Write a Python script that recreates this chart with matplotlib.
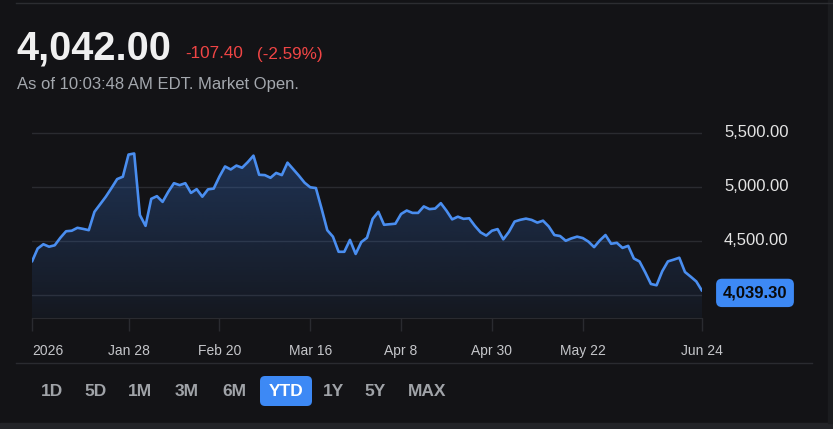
import numpy as np
import pandas as pd
import matplotlib
matplotlib.use("Agg")
import matplotlib.pyplot as plt
from matplotlib import transforms
from matplotlib.colors import to_rgb
from matplotlib.lines import Line2D
from matplotlib.patches import FancyBboxPatch, Rectangle

# --- data (YTD daily closes) ---
holidays = ["2026-01-19", "2026-02-16", "2026-04-03", "2026-05-25", "2026-06-19"]
dates = pd.bdate_range("2026-01-02", "2026-06-24", freq="C", holidays=holidays)

closes = [4310, 4430, 4470, 4447, 4460, 4530, 4590, 4595, 4622, 4612,
          4600, 4770, 4840, 4910, 4990, 5073, 5095, 5300, 5310, 4740,
          4640, 4890, 4915, 4862, 4955, 5035, 5017, 5035, 4945, 4980,
          4910, 4978, 4985, 5095, 5190, 5162, 5198, 5178, 5230, 5290,
          5113, 5110, 5085, 5130, 5110, 5225, 5165, 5105, 5040, 4997,
          4990, 4800, 4600, 4540, 4400, 4400, 4510, 4380, 4490, 4530,
          4705, 4770, 4650, 4655, 4660, 4750, 4782, 4760, 4760, 4820,
          4795, 4800, 4850, 4780, 4700, 4725, 4705, 4710, 4640, 4580,
          4550, 4595, 4610, 4515, 4585, 4680, 4696, 4707, 4695, 4670,
          4688, 4635, 4555, 4546, 4502, 4524, 4540, 4527, 4494, 4443,
          4505, 4555, 4474, 4483, 4436, 4455, 4338, 4310, 4210, 4102,
          4090, 4220, 4311, 4327, 4345, 4213, 4170, 4125, 4039.30]

tick_dates = ["2026-01-02", "2026-01-28", "2026-02-20", "2026-03-16",
              "2026-04-08", "2026-04-30", "2026-05-22", "2026-06-24"]
y_ticks = [4000, 4500, 5000, 5500]
y_labeled = [4500, 5000, 5500]   # 4,000 sits behind the last-price tag
ranges = ["1D", "5D", "1M", "3M", "6M", "YTD", "1Y", "5Y", "MAX"]
selected = "YTD"

price = "4,042.00"
change = "-107.40"
change_pct = "(-2.59%)"
status = "As of 10:03:48 AM EDT. Market Open."

# --- styling ---
W, H = 833, 429
BG = "#131316"
LINE = "#4a8ef0"
BLUE = "#3d89f5"
GRID = "#2a2b30"
plt.rcParams["font.family"] = ["Liberation Sans", "DejaVu Sans"]

fig = plt.figure(figsize=(W / 100, H / 100), dpi=100, facecolor=BG)
pix = transforms.IdentityTransform()


def fx(x, y):
    return x / W, 1 - y / H


# frame bits
fig.add_artist(Rectangle((0, 0), W, H - 423, transform=pix, color="#232428", zorder=0))
fig.add_artist(Rectangle((828, H - 423), 5, 423, transform=pix, color="#1b1c1f", zorder=0))
fig.add_artist(Line2D([16 / W, 1], [1 - 3 / H] * 2, transform=fig.transFigure, color="#2c2d31", lw=1))
fig.add_artist(Line2D([16 / W, 812 / W], [1 - 363 / H] * 2, transform=fig.transFigure, color=GRID, lw=1))

# header
fig.text(*fx(16, 60), price, fontsize=28.5, fontweight="bold", color="#f0f0f0", va="baseline")
fig.text(*fx(185, 58.5), change, fontsize=12.3, color="#f04545", va="baseline")
fig.text(*fx(257, 58.5), change_pct, fontsize=12.3, color="#f04545", va="baseline")
fig.text(*fx(17, 88.5), status, fontsize=12, color="#a4a8ae", va="baseline")

# chart
ax = fig.add_axes([32 / W, (H - 318) / H, (702 - 32) / W, (318 - 120) / H])
ax.set_facecolor("none")
n = len(closes)
x = np.arange(n)
ylo, yhi = 3787, 5620

rgba = np.zeros((256, 1, 4))
rgba[..., :3] = to_rgb("#3a7be0")
rgba[..., 3] = np.linspace(0.36, 0.05, 256)[:, None]
img = ax.imshow(rgba, extent=[0, n - 1, ylo, yhi], aspect="auto", origin="upper", zorder=1)
poly = ax.fill_between(x, closes, ylo, facecolor="none", edgecolor="none")
img.set_clip_path(poly.get_paths()[0], transform=ax.transData)

ax.plot(x, closes, color=LINE, lw=1.9, solid_joinstyle="round", solid_capstyle="round", zorder=3)

ax.set_xlim(0, n - 1)
ax.set_ylim(ylo, yhi)
ax.set_yticks(y_ticks)
ax.grid(axis="y", color=GRID, lw=1)
ax.set_axisbelow(True)
ax.tick_params(axis="y", length=0, labelleft=False)
for s in ["top", "left", "right"]:
    ax.spines[s].set_visible(False)
ax.spines["bottom"].set_color(GRID)

pos = [dates.get_loc(pd.Timestamp(d)) for d in tick_dates]
labels = ["2026"] + [f"{pd.Timestamp(d):%b} {pd.Timestamp(d).day}" for d in tick_dates[1:]]
ax.set_xticks(pos)
ax.set_xticklabels(labels)
ax.tick_params(axis="x", length=9.5, width=1, color=GRID, labelcolor="#c5c6ca",
               labelsize=10, pad=9)
ax.get_xticklabels()[0].set_horizontalalignment("left")

yt = transforms.blended_transform_factory(ax.transAxes, ax.transData)
for v in y_labeled:
    ax.text((724 - 32) / 670, v, f"{v:,.2f}", transform=yt, fontsize=12,
            color="#e4e4e4", va="center", ha="left", clip_on=False)

ax.text((755 - 32) / 670, closes[-1] - 20, f"{closes[-1]:,.2f}", transform=yt,
        fontsize=12, fontweight="bold", color="#0a0a0a", ha="center", va="center",
        clip_on=False,
        bbox=dict(boxstyle="round,pad=0.4,rounding_size=0.35", fc=BLUE, ec="none"))

# range buttons
centers = [52, 96, 140, 186.5, 234, 286, 333, 375, 427]
for lab, cx in zip(ranges, centers):
    if lab == selected:
        fig.add_artist(FancyBboxPatch((260, H - 406), 52, 30, transform=pix,
                                      boxstyle="round,pad=0,rounding_size=5",
                                      fc=BLUE, ec="none"))
        col = "#ffffff"
    else:
        col = "#a0a3a8"
    fig.text(*fx(cx, 391), lab, fontsize=12.5, fontweight="bold", color=col,
             ha="center", va="center")

fig.savefig("out.png", dpi=100, facecolor=BG)
